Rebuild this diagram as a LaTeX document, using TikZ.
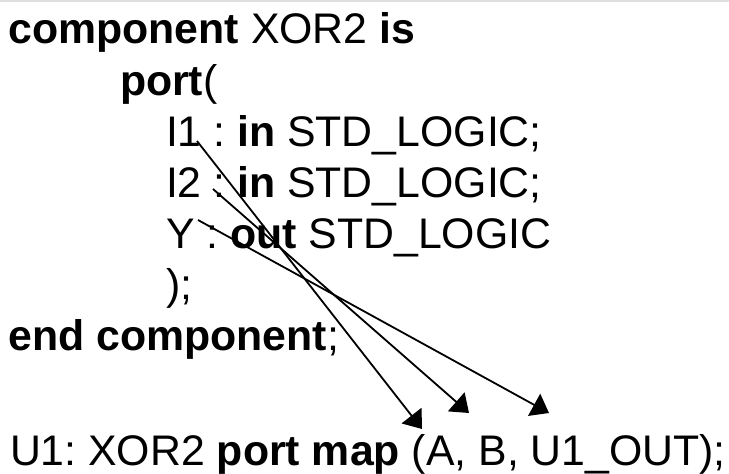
\documentclass[tikz,border=0pt]{standalone}
\usepackage{fontspec}
\setmainfont{Liberation Sans}
\usetikzlibrary{arrows.meta}
\frenchspacing
\tikzset{
  codeline/.style={anchor=base west, inner sep=0pt, outer sep=0pt,
    font=\fontsize{42.8}{51}\selectfont},
  maparrow/.style={line width=1.8pt, -{Triangle[length=17pt,width=25pt]}}
}
\begin{document}
\begin{tikzpicture}[x=1pt,y=-1pt]
  \useasboundingbox (0,0) rectangle (729,474);
  \fill[white] (0,0) rectangle (729,474);
  % thin rule along the top edge
  \fill[black!12] (0,0) rectangle (729,2);

  % component declaration
  \node[codeline] (l1) at (8.5,43)  {\textbf{component} XOR2 \textbf{is}};
  \node[codeline] (l2) at (120,95)  {\textbf{port}(};
  \node[codeline] (l3) at (166,146) {I1 : \textbf{in} STD\_LOGIC;};
  \node[codeline] (l4) at (166,197) {I2 : \textbf{in} STD\_LOGIC;};
  \node[codeline] (l5) at (166,248) {Y : \textbf{out} STD\_LOGIC};
  \node[codeline] (l6) at (166,299) {);};
  \node[codeline] (l7) at (8.5,350) {\textbf{end component};};

  % instantiation
  \node[codeline] (l8) at (10,465) {U1: XOR2 \textbf{port map} (A, B, U1\_OUT);};

  % formal ports and the actuals they are mapped to
  \coordinate (pI1) at (197,141);
  \coordinate (pI2) at (213,189);
  \coordinate (pY)  at (198,220);
  \coordinate (aA)  at (422,429);
  \coordinate (aB)  at (469,413);
  \coordinate (aU)  at (549,413);

  \draw[maparrow] (pI1) -- (aA);
  \draw[maparrow] (pI2) -- (aB);
  \draw[maparrow] (pY)  -- (aU);
\end{tikzpicture}
\end{document}
